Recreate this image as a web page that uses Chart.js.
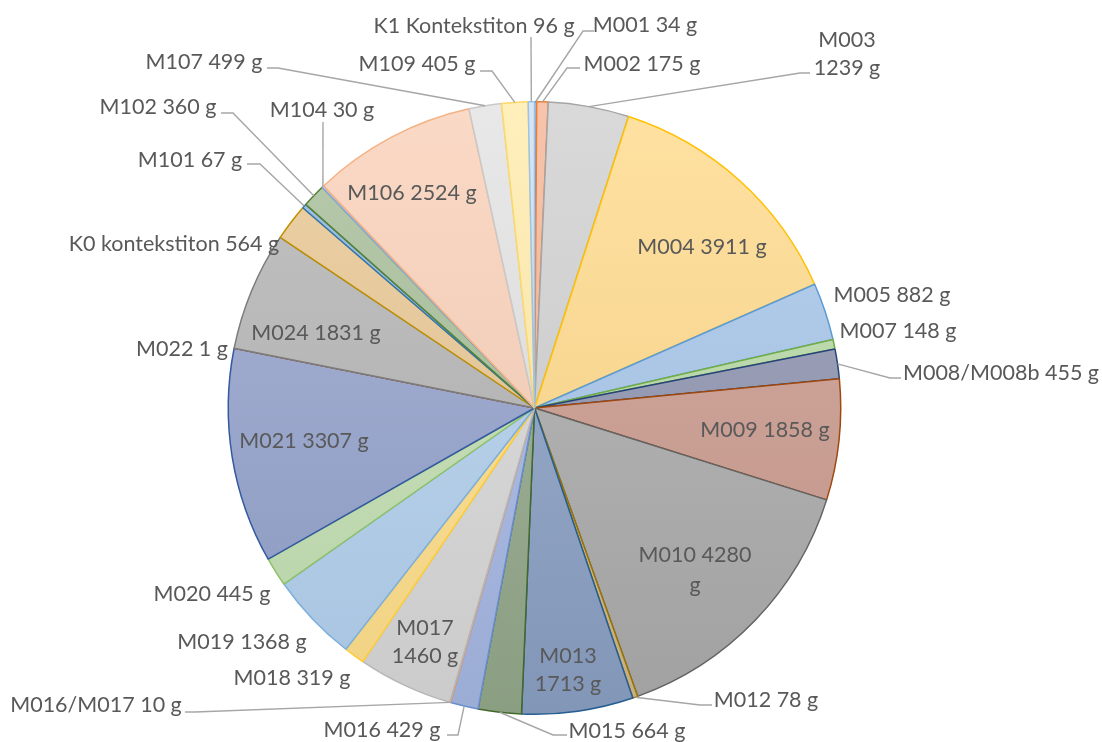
<!DOCTYPE html>
<html>
<head>
<meta charset="utf-8">
<script src="https://cdn.jsdelivr.net/npm/chart.js@4.4.1/dist/chart.umd.min.js"></script>
<style>
  html, body { margin: 0; padding: 0; background: #ffffff; }
  #wrap { width: 1102px; height: 742px; }
</style>
</head>
<body>
<div id="wrap"><canvas id="myChart"></canvas></div>
<script>
// categories and weights (g), clockwise from 12 o'clock
const categories = ['M001', 'M002', 'M003', 'M004', 'M005', 'M007', 'M008/M008b', 'M009', 'M010', 'M012',
    'M013', 'M015', 'M016', 'M016/M017', 'M017', 'M018', 'M019', 'M020', 'M021', 'M022',
    'M024', 'K0 kontekstiton', 'M101', 'M102', 'M104', 'M106', 'M107', 'M109', 'K1 Kontekstiton'];
const grams = [34, 175, 1239, 3911, 882, 148, 455, 1858, 4280, 78,
    1713, 664, 429, 10, 1460, 319, 1368, 445, 3307, 1,
    1831, 564, 67, 360, 30, 2524, 499, 405, 96];
const unit = 'g';

// slice colours: outline and fill
const edgeColors = ['#4472C4', '#ED7D31', '#A5A5A5', '#FFC000', '#5B9BD5', '#70AD47', '#264478', '#9E480E', '#636363', '#997300',
    '#255E91', '#43682B', '#698ED0', '#F1975A', '#B7B7B7', '#FFCD33', '#7CAFDD', '#8CC168', '#335AA1', '#C55A11',
    '#7C7C7C', '#BF9000', '#2E75B6', '#548235', '#8FAADC', '#F4B183', '#C9C9C9', '#FFD966', '#9DC3E6'];
const fillColors = ['#A9BCE3', '#F5B596', '#D0D0D0', '#FFD98A', '#A6C6EA', '#B8DAA6', '#8D94AF', '#CB9A8E', '#ABABAB', '#D2B98A',
    '#8AA0C4', '#93A88A', '#A5B7E3', '#F7C7A8', '#D8D8D8', '#FFDF8A', '#B3D0EE', '#C3DFB2', '#94A2CC', '#E0A080',
    '#B4B4B4', '#E8C792', '#8EB4DB', '#A6BE98', '#C6D4EE', '#F9D0B8', '#E2E2E2', '#FFEBAA', '#CDE0F3'];

// label placement: text centre x, baselines, line split, leader points
const labelLayout = [
    { x: 645, y: [32], leader: [[583, 31], [594, 31]] },
    { x: 642, y: [71], leader: [[567, 68], [580, 68]] },
    { x: 847, y: [47, 75], split: 1, leader: [[800, 73], [810, 73]] },
    { x: 702, y: [254] },
    { x: 892, y: [302] },
    { x: 898, y: [338] },
    { x: 1001, y: [380], leader: [[890, 378], [901, 378]] },
    { x: 765, y: [437] },
    { x: 695, y: [562, 592], split: 2 },
    { x: 766, y: [707], leader: [[700, 705], [712, 705]] },
    { x: 568, y: [663, 691], split: 1 },
    { x: 627, y: [738], leader: [[553, 735], [567, 735]] },
    { x: 382, y: [737], leader: [[458, 735], [447, 735]] },
    { x: 96, y: [712], leader: [[195, 712], [185, 712]] },
    { x: 425, y: [635, 663], split: 1 },
    { x: 292, y: [685] },
    { x: 242, y: [649] },
    { x: 212, y: [601] },
    { x: 304, y: [448] },
    { x: 182, y: [356] },
    { x: 316, y: [340] },
    { x: 174, y: [251] },
    { x: 190, y: [167], leader: [[260, 164], [247, 164]] },
    { x: 158, y: [114], leader: [[233, 113], [221, 113]] },
    { x: 322, y: [117], leader: [[323, 122]] },
    { x: 412, y: [200] },
    { x: 204, y: [69], leader: [[278, 68], [267, 68]] },
    { x: 417, y: [71], leader: [[492, 71], [480, 71]] },
    { x: 474, y: [33], leader: [[531, 37]] }
];

function mix(hex, target, amt) {
    const n = parseInt(hex.slice(1), 16);
    const r = (n >> 16) & 255, g = (n >> 8) & 255, b = n & 255;
    const m = c => Math.round(c + (target - c) * amt);
    return 'rgb(' + m(r) + ',' + m(g) + ',' + m(b) + ')';
}

const sliceLabels = {
    id: 'sliceLabels',
    afterDatasetsDraw(chart) {
        const ctx = chart.ctx;
        const meta = chart.getDatasetMeta(0);
        ctx.save();
        ctx.font = '21.5px Lato, "Open Sans", sans-serif';
        ctx.fillStyle = '#595959';
        ctx.textAlign = 'center';
        ctx.textBaseline = 'alphabetic';
        meta.data.forEach(function(arc, i) {
            const p = arc.getProps(['x', 'y', 'startAngle', 'endAngle', 'outerRadius'], true);
            const lay = labelLayout[i];
            if (lay.leader) {
                const mid = (p.startAngle + p.endAngle) / 2;
                ctx.beginPath();
                ctx.moveTo(p.x + Math.cos(mid) * p.outerRadius, p.y + Math.sin(mid) * p.outerRadius);
                lay.leader.forEach(function(pt) { ctx.lineTo(pt[0], pt[1]); });
                ctx.strokeStyle = '#A6A6A6';
                ctx.lineWidth = 1.4;
                ctx.stroke();
            }
            const words = (categories[i] + ' ' + grams[i] + ' ' + unit).split(' ');
            let lines = [words.join(' ')];
            if (lay.split) {
                lines = [words.slice(0, lay.split).join(' '), words.slice(lay.split).join(' ')];
            }
            lines.forEach(function(t, k) { ctx.fillText(t, lay.x, lay.y[k]); });
        });
        ctx.restore();
    }
};

document.addEventListener("DOMContentLoaded", function() {
    const ctx = document.getElementById('myChart').getContext('2d');
    new Chart(ctx, {
        type: 'pie',
        data: {
            labels: categories,
            datasets: [{
                data: grams,
                backgroundColor: function(c) {
                    const area = c.chart.chartArea;
                    const base = fillColors[c.dataIndex];
                    if (!area) return base;
                    const g = c.chart.ctx.createLinearGradient(0, area.top, 0, area.bottom);
                    g.addColorStop(0, mix(base, 255, 0.2));
                    g.addColorStop(1, mix(base, 0, 0.06));
                    return g;
                },
                borderColor: edgeColors,
                borderWidth: 1.5
            }]
        },
        options: {
            responsive: true,
            maintainAspectRatio: false,
            animation: false,
            layout: {
                padding: { top: 101, bottom: 27, left: 0, right: 33 }
            },
            plugins: {
                legend: { display: false },
                tooltip: { enabled: false }
            }
        },
        plugins: [sliceLabels]
    });
});
</script>
</body>
</html>
